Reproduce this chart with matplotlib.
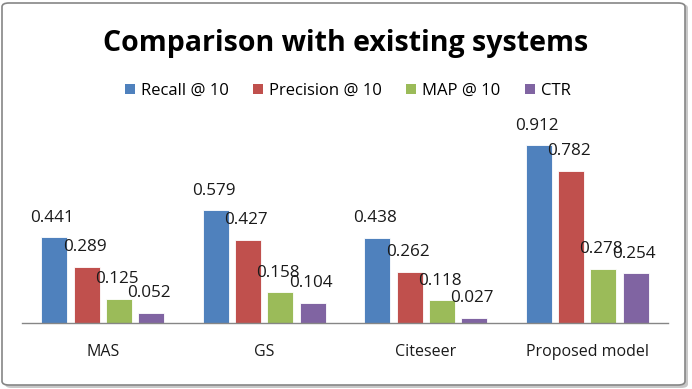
import matplotlib
matplotlib.use("Agg")
import matplotlib.pyplot as plt
from matplotlib.patches import FancyBboxPatch, Patch
import numpy as np

categories = ["MAS", "GS", "Citeseer", "Proposed model"]
series_names = ["Recall @ 10", "Precision @ 10", "MAP @ 10", "CTR"]
recall = [0.441, 0.579, 0.438, 0.912]
precision = [0.289, 0.427, 0.262, 0.782]
map10 = [0.125, 0.158, 0.118, 0.278]
ctr = [0.052, 0.104, 0.027, 0.254]
colors = ["#4F81BD", "#C0504D", "#9BBB59", "#8064A2"]

series = [recall, precision, map10, ctr]

FONT = ["Open Sans", "DejaVu Sans"]
W, H = 692, 389
fig = plt.figure(figsize=(W / 100, H / 100), dpi=100)
fig.patch.set_facecolor("white")

# outer rounded border with shadow
shadow = FancyBboxPatch((5 / W, 1 / H), (W - 9) / W, (H - 5) / H,
                        boxstyle="round,pad=0,rounding_size=0.01",
                        transform=fig.transFigure, facecolor="#c8c8c8",
                        edgecolor="none", zorder=-3)
border = FancyBboxPatch((2 / W, 4 / H), (W - 9) / W, (H - 7) / H,
                        boxstyle="round,pad=0,rounding_size=0.01",
                        transform=fig.transFigure, facecolor="white",
                        edgecolor="#868686", linewidth=1.2, zorder=-2)
fig.patches.extend([shadow, border])

ax = fig.add_axes([22 / W, 1 - 323 / H, (668 - 22) / W, (323 - 128) / H])
ax.set_zorder(1)
ax.set_facecolor("none")
x = np.arange(len(categories))
bw = 0.16
step = 0.2
for i, (vals, col) in enumerate(zip(series, colors)):
    pos = x + (i - 1.5) * step
    ax.bar(pos, vals, width=bw, color=col, edgecolor="#ffffff",
           linewidth=0.6, zorder=2)
    for xp, v in zip(pos, vals):
        ax.annotate(f"{v:.3f}", (xp, v), xytext=(-1.5, 14),
                    textcoords="offset points", ha="center", va="center",
                    fontsize=12.3, family=FONT, color="#1a1a1a", zorder=3,
                    annotation_clip=False)

ax.set_xlim(-0.5, 3.5)
ax.set_ylim(0, 1.0)
for s in ["top", "right", "left"]:
    ax.spines[s].set_visible(False)
ax.spines["bottom"].set_color("#868686")
ax.spines["bottom"].set_linewidth(1.0)
ax.set_yticks([])
ax.set_xticks(x)
ax.set_xticklabels(categories, family=FONT, fontsize=11.5, color="#1a1a1a")
ax.tick_params(axis="x", length=0, pad=15)

fig.text(0.5, 1 - 44 / H, "Comparison with existing systems",
         ha="center", va="center", fontsize=20.5, fontweight="bold",
         family=FONT, color="black")

handles = [Patch(facecolor=c, edgecolor="none") for c in colors]
fig.legend(handles, series_names, loc="center", bbox_to_anchor=(348 / W, 1 - 91 / H),
           ncol=4, frameon=False, prop={"family": FONT, "size": 12},
           handlelength=0.6, handleheight=0.6, handletextpad=0.36,
           columnspacing=1.45)

fig.savefig("out.png", dpi=100, facecolor="white")
